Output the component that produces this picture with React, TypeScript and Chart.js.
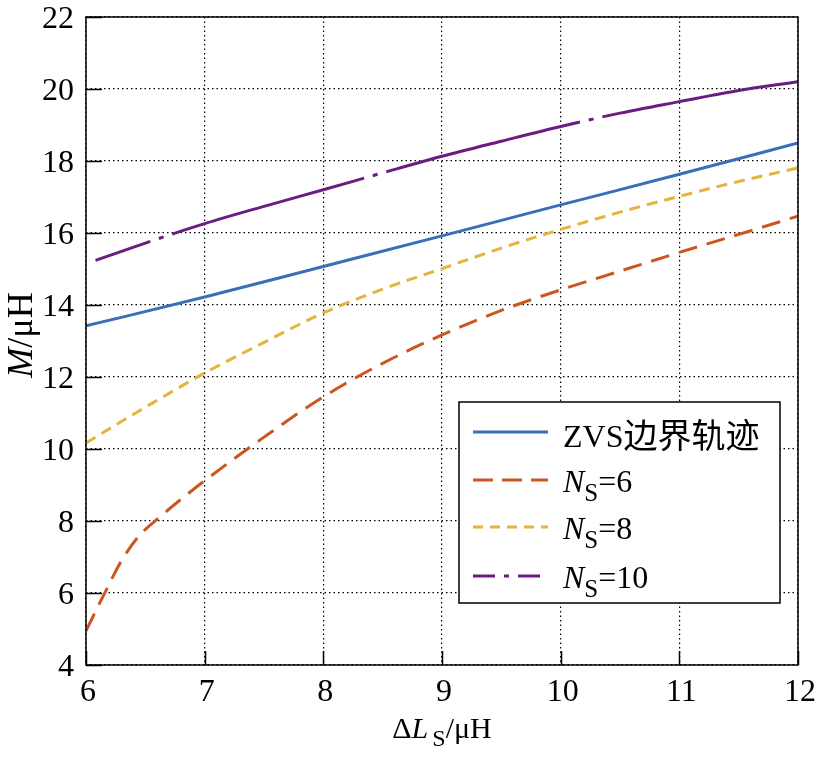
import React, { useEffect, useRef, useState } from "react";
import { Chart, registerables } from "chart.js";
Chart.register(...registerables);

const xTicks = [6, 7, 8, 9, 10, 11, 12];
const yTicks = [4, 6, 8, 10, 12, 14, 16, 18, 20, 22];

const zvsX = [6, 7, 8, 9, 10, 11, 12];
const zvsM = [13.42, 14.22, 15.07, 15.92, 16.78, 17.63, 18.5];

const ns6X = [6, 6.15, 6.3, 6.45, 6.6, 6.8, 7, 7.5, 8, 8.5, 9, 9.5, 10, 10.5, 11, 11.5, 12];
const ns6M = [4.95, 5.95, 6.9, 7.6, 8.05, 8.6, 9.12, 10.33, 11.45, 12.38, 13.17, 13.85, 14.42, 14.94, 15.46, 15.96, 16.47];

const ns8X = [6, 6.5, 7, 7.5, 8, 8.5, 9, 9.5, 10, 10.5, 11, 11.5, 12];
const ns8M = [10.17, 11.16, 12.11, 12.96, 13.78, 14.44, 15.01, 15.58, 16.1, 16.58, 17.02, 17.43, 17.81];

const ns10X = [6.08, 6.5, 7, 7.5, 8, 8.5, 9, 9.5, 10, 10.5, 11, 11.5, 12];
const ns10M = [15.24, 15.72, 16.26, 16.74, 17.2, 17.67, 18.13, 18.55, 18.96, 19.33, 19.65, 19.96, 20.2];

const legendZvs = "ZVS边界轨迹";
const legendNs = ["6", "8", "10"];

const COLORS = ["#3a6fb7", "#cc5520", "#e4b43c", "#6a1d80"];
const DASHES: number[][] = [[], [19, 10], [11, 7], [200, 9, 5, 9]];
const LEGEND_DASHES: number[][] = [[], [20, 9], [10, 7], [22, 9, 5, 9]];

const SERIF = '"Liberation Serif", "Times New Roman", serif';
const CJK = '"Noto Sans CJK SC", sans-serif';

const LEGEND_BOX = { x: 459, y: 402, w: 321, h: 201 };
const LEGEND_ROWS = [432, 480, 527, 576];

function pts(xs: number[], ys: number[]) {
  return xs.map((x, i) => ({ x, y: ys[i] }));
}

const decorPlugin = {
  id: "decor",
  afterDraw(chart: any) {
    const ctx: CanvasRenderingContext2D = chart.ctx;
    const { left, right, top, bottom } = chart.chartArea;
    const xs = chart.scales.x;
    const ys = chart.scales.y;
    ctx.save();
    ctx.strokeStyle = "#000";
    ctx.lineWidth = 1.5;
    ctx.setLineDash([]);
    ctx.strokeRect(left, top, right - left, bottom - top);
    ctx.beginPath();
    xTicks.forEach((v) => {
      const px = Math.round(xs.getPixelForValue(v)) + 0.5;
      ctx.moveTo(px, bottom);
      ctx.lineTo(px, bottom - 14);
    });
    yTicks.forEach((v) => {
      const py = Math.round(ys.getPixelForValue(v)) + 0.5;
      ctx.moveTo(left, py);
      ctx.lineTo(left + 16, py);
    });
    ctx.stroke();
    const b = LEGEND_BOX;
    ctx.fillStyle = "#fff";
    ctx.fillRect(b.x, b.y, b.w, b.h);
    ctx.strokeStyle = "#000";
    ctx.lineWidth = 1.5;
    ctx.strokeRect(b.x, b.y, b.w, b.h);
    LEGEND_ROWS.forEach((ry, i) => {
      ctx.strokeStyle = COLORS[i];
      ctx.lineWidth = 3;
      ctx.setLineDash(LEGEND_DASHES[i]);
      ctx.beginPath();
      ctx.moveTo(473, ry);
      ctx.lineTo(548, ry);
      ctx.stroke();
    });
    ctx.restore();
  },
};

type Layout = {
  xs: { v: number; p: number }[];
  ys: { v: number; p: number }[];
  left: number;
  right: number;
  bottom: number;
};

export default function App() {
  const ref = useRef<HTMLCanvasElement | null>(null);
  const [layout, setLayout] = useState<Layout | null>(null);
  useEffect(() => {
    document.body.style.margin = "0";
    const canvas = ref.current!;
    const series = [
      { label: "ZVS", xs: zvsX, ys: zvsM },
      { label: "Ns=6", xs: ns6X, ys: ns6M },
      { label: "Ns=8", xs: ns8X, ys: ns8M },
      { label: "Ns=10", xs: ns10X, ys: ns10M },
    ];
    const chart = new Chart(canvas, {
      type: "line",
      data: {
        datasets: series.map((s, i) => ({
          label: s.label,
          data: pts(s.xs, s.ys),
          borderColor: COLORS[i],
          borderWidth: 3,
          borderDash: DASHES[i],
          borderDashOffset: i === 3 ? 142 : 0,
          pointRadius: 0,
          fill: false,
          cubicInterpolationMode: "monotone" as const,
        })),
      },
      options: {
        animation: false,
        responsive: false,
        devicePixelRatio: 1,
        layout: { padding: { left: 86, right: 19, top: 17, bottom: 94 } },
        plugins: { legend: { display: false }, tooltip: { enabled: false } },
        scales: {
          x: {
            type: "linear",
            min: 6,
            max: 12,
            ticks: { display: false, stepSize: 1 },
            grid: { color: "#000", lineWidth: 1.2, drawTicks: false, tickLength: 0 },
            border: { display: false, dash: [1.5, 3] },
          },
          y: {
            type: "linear",
            min: 4,
            max: 22,
            ticks: { display: false, stepSize: 2 },
            grid: { color: "#000", lineWidth: 1.2, drawTicks: false, tickLength: 0 },
            border: { display: false, dash: [1.5, 3] },
          },
        },
      },
      plugins: [decorPlugin],
    });
    const xsScale: any = chart.scales.x;
    const ysScale: any = chart.scales.y;
    setLayout({
      xs: xTicks.map((v) => ({ v, p: xsScale.getPixelForValue(v) })),
      ys: yTicks.map((v) => ({ v, p: ysScale.getPixelForValue(v) })),
      left: chart.chartArea.left,
      right: chart.chartArea.right,
      bottom: chart.chartArea.bottom,
    });
    return () => {
      chart.destroy();
    };
  }, []);

  const txt: React.CSSProperties = {
    position: "absolute",
    fontFamily: SERIF,
    fontSize: 32,
    lineHeight: "32px",
    color: "#000",
    whiteSpace: "nowrap",
  };
  const sub = (size: number, dy: number): React.CSSProperties => ({
    fontSize: size,
    position: "relative",
    top: dy,
    fontStyle: "normal",
  });

  return (
    <div style={{ position: "relative", width: 817, height: 759, background: "#fff", overflow: "hidden" }}>
      <canvas
        ref={ref}
        width={817}
        height={759}
        style={{ position: "absolute", left: 0, top: 0, display: "block", width: 817, height: 759 }}
      />
      {layout && (
        <>
          {layout.xs.map((t) => (
            <div key={"x" + t.v} style={{ ...txt, left: t.p + 2 - 50, width: 100, textAlign: "center", top: layout.bottom + 36 - 27 }}>
              {String(t.v)}
            </div>
          ))}
          {layout.ys.map((t) => (
            <div key={"y" + t.v} style={{ ...txt, left: 0, width: layout.left - 12, textAlign: "right", top: t.p + 11 - 27 }}>
              {String(t.v)}
            </div>
          ))}
          <div style={{ ...txt, fontSize: 30, lineHeight: "30px", left: (layout.left + layout.right) / 2 - 150, width: 300, textAlign: "center", top: 738 - 25 }}>
            Δ<i>L</i>
            <span style={{ ...sub(24, 8), marginLeft: 4 }}>S</span>/μH
          </div>
          <div
            style={{
              ...txt,
              fontSize: 36,
              lineHeight: "36px",
              left: 20 - 100,
              top: 335 - 18,
              width: 200,
              textAlign: "center",
              transform: "rotate(-90deg)",
              transformOrigin: "50% 50%",
            }}
          >
            <i>M</i>/μH
          </div>
          {LEGEND_ROWS.map((ry, i) => (
            <div key={"l" + i} style={{ ...txt, left: 563, top: ry + 12 - 27 }}>
              {i === 0 ? (
                <>
                  {legendZvs.slice(0, 3)}
                  <span style={{ fontFamily: CJK, fontSize: 34, position: "relative", top: 1 }}>{legendZvs.slice(3)}</span>
                </>
              ) : (
                <>
                  <i>N</i>
                  <span style={sub(25, 9)}>S</span>={legendNs[i - 1]}
                </>
              )}
            </div>
          ))}
        </>
      )}
    </div>
  );
}
